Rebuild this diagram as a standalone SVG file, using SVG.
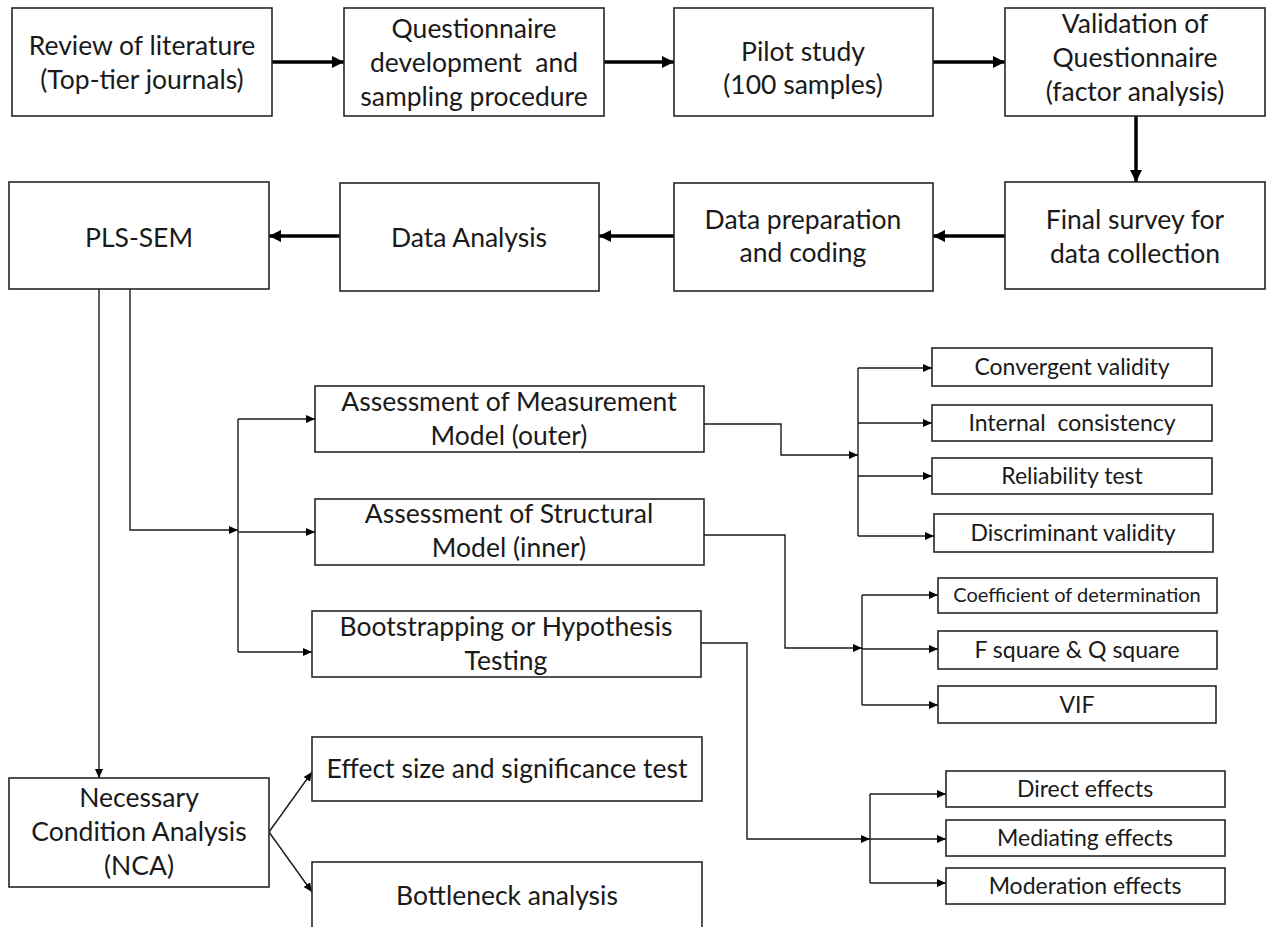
<svg xmlns="http://www.w3.org/2000/svg" width="1268" height="927" viewBox="0 0 1268 927">
<style>
.box{fill:#fff;stroke:#262626;stroke-width:1.6}
.t{font-family:Lato,"Liberation Sans",sans-serif;fill:#1a1a1a;text-anchor:middle}
.l{font-size:26.5px}
.m{font-size:23px}
.s{font-size:20px}
.thick{fill:none;stroke:#000;stroke-width:3.5}
.thin{fill:none;stroke:#1a1a1a;stroke-width:1.4}
</style>
<defs>
<marker id="ah" markerUnits="userSpaceOnUse" markerWidth="12" markerHeight="12" refX="12" refY="6" orient="auto">
<path d="M0,0 L12,6 L0,12 z" fill="#000"/>
</marker>
<marker id="as" markerUnits="userSpaceOnUse" markerWidth="9" markerHeight="8" refX="9" refY="4" orient="auto">
<path d="M0,0 L9,4 L0,8 z" fill="#000"/>
</marker>
</defs>

<g id="connectors">
<line class="thick" x1="272" y1="62" x2="344" y2="62" marker-end="url(#ah)"/>
<line class="thick" x1="604" y1="62" x2="674" y2="62" marker-end="url(#ah)"/>
<line class="thick" x1="933" y1="62" x2="1005" y2="62" marker-end="url(#ah)"/>
<line class="thick" x1="1136" y1="116" x2="1136" y2="182" marker-end="url(#ah)"/>
<line class="thick" x1="1005" y1="236" x2="933" y2="236" marker-end="url(#ah)"/>
<line class="thick" x1="674" y1="236" x2="599" y2="236" marker-end="url(#ah)"/>
<line class="thick" x1="340" y1="236" x2="269" y2="236" marker-end="url(#ah)"/>

<line class="thin" x1="99" y1="289" x2="99" y2="778" marker-end="url(#as)"/>
<polyline class="thin" points="130,289 130,530 238,530" marker-end="url(#as)"/>
<line class="thin" x1="238" y1="419" x2="238" y2="652"/>
<line class="thin" x1="238" y1="419" x2="315" y2="419" marker-end="url(#as)"/>
<line class="thin" x1="238" y1="532" x2="315" y2="532" marker-end="url(#as)"/>
<line class="thin" x1="238" y1="652" x2="312" y2="652" marker-end="url(#as)"/>

<polyline class="thin" points="704,424 781,424 781,455 858,455" marker-end="url(#as)"/>
<line class="thin" x1="858" y1="368" x2="858" y2="536"/>
<line class="thin" x1="858" y1="368" x2="932" y2="368" marker-end="url(#as)"/>
<line class="thin" x1="858" y1="423" x2="932" y2="423" marker-end="url(#as)"/>
<line class="thin" x1="858" y1="476" x2="932" y2="476" marker-end="url(#as)"/>
<line class="thin" x1="858" y1="536" x2="934" y2="536" marker-end="url(#as)"/>

<polyline class="thin" points="704,535 785,535 785,648 862,648" marker-end="url(#as)"/>
<line class="thin" x1="862" y1="595" x2="862" y2="705"/>
<line class="thin" x1="862" y1="595" x2="938" y2="595" marker-end="url(#as)"/>
<line class="thin" x1="862" y1="649" x2="938" y2="649" marker-end="url(#as)"/>
<line class="thin" x1="862" y1="705" x2="938" y2="705" marker-end="url(#as)"/>

<polyline class="thin" points="701,643 747,643 747,839 870,839" marker-end="url(#as)"/>
<line class="thin" x1="870" y1="794" x2="870" y2="883"/>
<line class="thin" x1="870" y1="794" x2="946" y2="794" marker-end="url(#as)"/>
<line class="thin" x1="870" y1="839" x2="946" y2="839" marker-end="url(#as)"/>
<line class="thin" x1="870" y1="883" x2="946" y2="883" marker-end="url(#as)"/>

<line class="thin" x1="269" y1="832" x2="312" y2="772" marker-end="url(#as)"/>
<line class="thin" x1="269" y1="832" x2="312" y2="892" marker-end="url(#as)"/>
</g>

<g id="n-review"><rect class="box" x="12" y="8" width="260" height="108"/>
<text class="t l" x="142" y="55">Review of literature</text>
<text class="t l" x="142" y="89">(Top-tier journals)</text></g>

<g id="n-questionnaire"><rect class="box" x="344" y="8" width="260" height="108"/>
<text class="t l" x="474" y="38">Questionnaire</text>
<text class="t l" x="474" y="72" xml:space="preserve">development  and</text>
<text class="t l" x="474" y="106">sampling procedure</text></g>

<g id="n-pilot"><rect class="box" x="674" y="8" width="259" height="108"/>
<text class="t l" x="803" y="61">Pilot study</text>
<text class="t l" x="803" y="94">(100 samples)</text></g>

<g id="n-validation"><rect class="box" x="1005" y="8" width="260" height="108"/>
<text class="t l" x="1135" y="33">Validation of</text>
<text class="t l" x="1135" y="67">Questionnaire</text>
<text class="t l" x="1135" y="101">(factor analysis)</text></g>

<g id="n-final"><rect class="box" x="1005" y="182" width="260" height="107"/>
<text class="t l" x="1135" y="229">Final survey for</text>
<text class="t l" x="1135" y="263">data collection</text></g>

<g id="n-prep"><rect class="box" x="674" y="183" width="259" height="108"/>
<text class="t l" x="803" y="229">Data preparation</text>
<text class="t l" x="803" y="262">and coding</text></g>

<g id="n-analysis"><rect class="box" x="340" y="183" width="259" height="108"/>
<text class="t l" x="469" y="247">Data Analysis</text></g>

<g id="n-plssem"><rect class="box" x="9" y="182" width="260" height="107"/>
<text class="t l" x="139" y="247">PLS-SEM</text></g>

<g id="n-measurement"><rect class="box" x="315" y="386" width="389" height="66"/>
<text class="t l" x="509" y="411">Assessment of Measurement</text>
<text class="t l" x="509" y="445">Model (outer)</text></g>

<g id="n-structural"><rect class="box" x="315" y="499" width="389" height="66"/>
<text class="t l" x="509" y="523">Assessment of Structural</text>
<text class="t l" x="509" y="557">Model (inner)</text></g>

<g id="n-bootstrap"><rect class="box" x="312" y="611" width="389" height="66"/>
<text class="t l" x="506" y="636">Bootstrapping or Hypothesis</text>
<text class="t l" x="506" y="670">Testing</text></g>

<g id="n-convergent"><rect class="box" x="932" y="348" width="280" height="38"/>
<text class="t m" x="1072" y="375">Convergent validity</text></g>
<g id="n-internal"><rect class="box" x="932" y="405" width="280" height="36"/>
<text class="t m" x="1072" y="431" xml:space="preserve">Internal  consistency</text></g>
<g id="n-reliability"><rect class="box" x="932" y="458" width="280" height="36"/>
<text class="t m" x="1072" y="484">Reliability test</text></g>
<g id="n-discriminant"><rect class="box" x="934" y="514" width="279" height="38"/>
<text class="t m" x="1073" y="541">Discriminant validity</text></g>

<g id="n-coefficient"><rect class="box" x="938" y="578" width="279" height="35"/>
<text class="t s" x="1077" y="602">Coefficient of determination</text></g>
<g id="n-fsquare"><rect class="box" x="938" y="631" width="279" height="38"/>
<text class="t m" x="1077" y="658">F square &amp; Q square</text></g>
<g id="n-vif"><rect class="box" x="938" y="686" width="278" height="37"/>
<text class="t m" x="1077" y="713">VIF</text></g>

<g id="n-direct"><rect class="box" x="946" y="771" width="279" height="36"/>
<text class="t m" x="1085" y="797">Direct effects</text></g>
<g id="n-mediating"><rect class="box" x="946" y="820" width="279" height="36"/>
<text class="t m" x="1085" y="846">Mediating effects</text></g>
<g id="n-moderation"><rect class="box" x="946" y="868" width="279" height="36"/>
<text class="t m" x="1085" y="894">Moderation effects</text></g>

<g id="n-nca"><rect class="box" x="9" y="778" width="260" height="109"/>
<text class="t l" x="139" y="807">Necessary</text>
<text class="t l" x="139" y="841">Condition Analysis</text>
<text class="t l" x="139" y="875">(NCA)</text></g>

<g id="n-effect"><rect class="box" x="312" y="737" width="390" height="64"/>
<text class="t l" x="507" y="778">Effect size and significance test</text></g>

<g id="n-bottleneck"><rect class="box" x="312" y="862" width="390" height="80"/>
<text class="t l" x="507" y="905">Bottleneck analysis</text></g>
</svg>
